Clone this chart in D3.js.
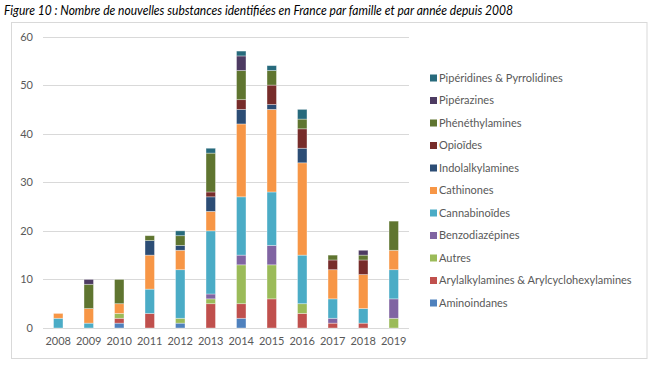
<!DOCTYPE html>
<html>
<head>
<meta charset="utf-8">
<script src="https://cdn.jsdelivr.net/npm/d3@7"></script>
<style>
  body { margin: 0; background: #fff; }
  svg { font-family: Lato, "Open Sans", sans-serif; }
</style>
</head>
<body>
<script>
// years on the x axis
const years = ["2008", "2009", "2010", "2011", "2012", "2013", "2014", "2015", "2016", "2017", "2018", "2019"];

// families, bottom of the stack first
const families = [
    "Aminoindanes",
    "Arylalkylamines & Arylcyclohexylamines",
    "Autres",
    "Benzodiazépines",
    "Cannabinoïdes",
    "Cathinones",
    "Indolalkylamines",
    "Opioïdes",
    "Phénéthylamines",
    "Pipérazines",
    "Pipéridines & Pyrrolidines"
];

// counts per year, one array per family
const aminoindanes    = [0, 0, 1, 0, 1, 0, 2, 0, 0, 0, 0, 0];
const arylalkylamines = [0, 0, 1, 3, 0, 5, 3, 6, 3, 1, 1, 0];
const autres          = [0, 0, 1, 0, 1, 1, 8, 7, 2, 0, 0, 2];
const benzodiazepines = [0, 0, 0, 0, 0, 1, 2, 4, 0, 1, 0, 4];
const cannabinoides   = [2, 1, 0, 5, 10, 13, 12, 11, 10, 4, 3, 6];
const cathinones      = [1, 3, 2, 7, 4, 4, 15, 17, 19, 6, 7, 4];
const indolalkylamines = [0, 0, 0, 3, 1, 3, 3, 1, 3, 0, 0, 0];
const opioides        = [0, 0, 0, 0, 0, 1, 2, 4, 4, 2, 3, 0];
const phenethylamines = [0, 5, 5, 1, 2, 8, 6, 3, 2, 1, 1, 6];
const piperazines     = [0, 1, 0, 0, 0, 0, 3, 0, 0, 0, 1, 0];
const piperidines     = [0, 0, 0, 0, 1, 1, 1, 1, 2, 0, 0, 0];

const yTicks = [0, 10, 20, 30, 40, 50, 60];

const seriesValues = [aminoindanes, arylalkylamines, autres, benzodiazepines, cannabinoides,
    cathinones, indolalkylamines, opioides, phenethylamines, piperazines, piperidines];

const colors = ["#4F81BD", "#C0504D", "#9BBB59", "#8064A2", "#4BACC6",
    "#F79646", "#2C4D75", "#772C2A", "#5F7530", "#4D3B62", "#276A7C"];

// build rows for d3.stack
const table = years.map((y, i) => {
    const row = { year: y };
    families.forEach((f, k) => { row[f] = seriesValues[k][i]; });
    return row;
});

const W = 655, H = 372;
const plot = { left: 43, right: 409, top: 36.5, bottom: 328 };

const svg = d3.select("body").append("svg")
    .attr("width", W)
    .attr("height", H);

// title
svg.append("text")
    .attr("x", 4)
    .attr("y", 15)
    .attr("font-size", 13)
    .attr("font-style", "italic")
    .attr("fill", "#000")
    .attr("textLength", 509)
    .attr("lengthAdjust", "spacingAndGlyphs")
    .text("Figure 10 : Nombre de nouvelles substances identifiées en France par famille et par année depuis 2008");

// chart frame
svg.append("rect")
    .attr("x", 11.5)
    .attr("y", 22.5)
    .attr("width", 635.5)
    .attr("height", 336)
    .attr("fill", "#fff")
    .attr("stroke", "#d9d9d9");

const x = d3.scaleBand()
    .domain(years)
    .range([plot.left, plot.right])
    .paddingInner(0.69)
    .paddingOuter(0.345);

const y = d3.scaleLinear()
    .domain([0, 60])
    .range([plot.bottom, plot.top]);

// gridlines
svg.append("g")
    .selectAll("line")
    .data(yTicks)
    .join("line")
    .attr("x1", plot.left)
    .attr("x2", plot.right)
    .attr("y1", d => Math.round(y(d)) + 0.5)
    .attr("y2", d => Math.round(y(d)) + 0.5)
    .attr("stroke", "#d9d9d9")
    .attr("stroke-width", 1);

// y axis labels
const yAxis = svg.append("g")
    .attr("transform", "translate(" + plot.left + ",0)")
    .call(d3.axisLeft(y).tickValues(yTicks).tickSize(0).tickPadding(10));
yAxis.select(".domain").remove();
yAxis.selectAll("text")
    .attr("font-family", "Lato, sans-serif")
    .attr("font-size", 11)
    .attr("fill", "#595959");

// x axis labels
const xAxis = svg.append("g")
    .attr("transform", "translate(0," + plot.bottom + ")")
    .call(d3.axisBottom(x).tickSize(0).tickPadding(9));
xAxis.select(".domain").remove();
xAxis.selectAll("text")
    .attr("font-family", "Lato, sans-serif")
    .attr("font-size", 11)
    .attr("fill", "#595959");

// stacked bars
const stacked = d3.stack().keys(families)(table);

svg.append("g")
    .selectAll("g")
    .data(stacked)
    .join("g")
    .attr("fill", (d, i) => colors[i])
    .selectAll("rect")
    .data(d => d.filter(p => p[1] > p[0]))
    .join("rect")
    .attr("x", d => x(d.data.year))
    .attr("width", x.bandwidth())
    .attr("y", d => y(d[1]))
    .attr("height", d => y(d[0]) - y(d[1]))
    .attr("stroke", "#fff")
    .attr("stroke-opacity", 0.45)
    .attr("stroke-width", 0.75);

// legend, top entry is the last family
const legendItems = families.map((f, i) => ({ name: f, color: colors[i] })).reverse();

const legend = svg.append("g")
    .selectAll("g")
    .data(legendItems)
    .join("g")
    .attr("transform", (d, i) => "translate(430," + (78 + i * 22.5) + ")");

legend.append("rect")
    .attr("x", 0)
    .attr("y", -3.5)
    .attr("width", 7)
    .attr("height", 7)
    .attr("fill", d => d.color);

legend.append("text")
    .attr("x", 9)
    .attr("y", 0)
    .attr("dy", "0.35em")
    .attr("font-size", 11)
    .attr("fill", "#595959")
    .text(d => d.name);
</script>
</body>
</html>
